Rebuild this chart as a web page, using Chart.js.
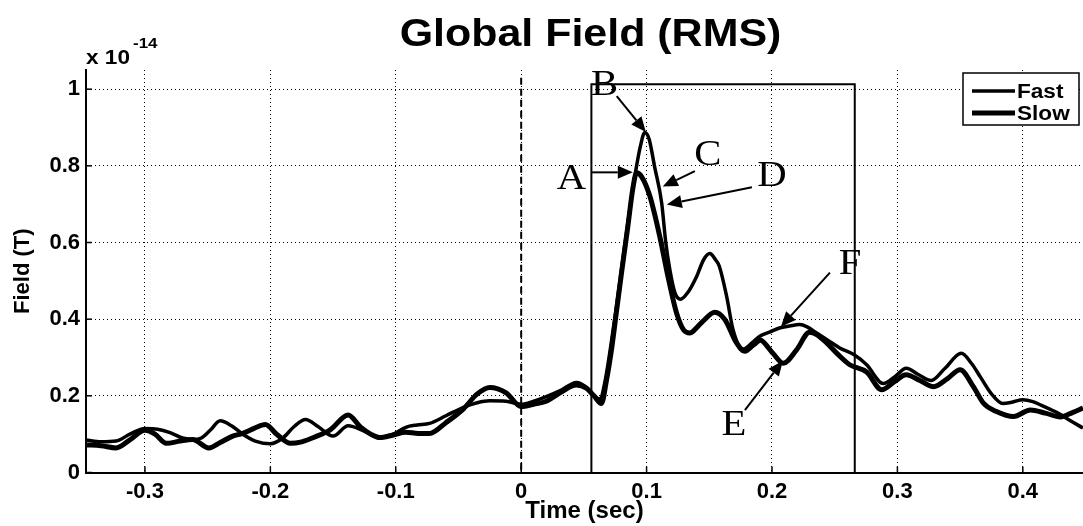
<!DOCTYPE html>
<html><head><meta charset="utf-8">
<script src="https://cdn.jsdelivr.net/npm/chart.js@4.4.0/dist/chart.umd.min.js"></script>
<style>html,body{margin:0;padding:0;background:#fff;}#wrap{width:1083px;height:526px;position:relative;}</style>
</head><body><div id="wrap"><canvas id="c" width="1083" height="526"></canvas></div>
<script>
// ---- data (time in s, field in units of 1e-14 T) ----
const fastTime = [-0.347,-0.335,-0.323,-0.312,-0.300,-0.290,-0.280,-0.270,-0.262,-0.255,-0.248,-0.240,-0.231,-0.222,-0.212,-0.200,-0.190,-0.181,-0.172,-0.162,-0.150,-0.138,-0.125,-0.113,-0.102,-0.092,-0.083,-0.073,-0.060,-0.046,-0.035,-0.025,-0.012,0.000,0.010,0.020,0.032,0.044,0.052,0.058,0.063,0.067,0.071,0.075,0.080,0.085,0.090,0.095,0.0986,0.102,0.1065,0.112,0.1153,0.1185,0.1225,0.127,0.133,0.140,0.1455,0.1504,0.155,0.158,0.1638,0.169,0.177,0.184,0.190,0.198,0.206,0.214,0.222,0.228,0.2356,0.245,0.254,0.2655,0.2755,0.2888,0.298,0.307,0.317,0.327,0.338,0.351,0.359,0.366,0.375,0.384,0.392,0.400,0.408,0.415,0.428,0.438,0.448];
const fastField = [0.085,0.080,0.082,0.100,0.115,0.113,0.104,0.090,0.086,0.090,0.110,0.135,0.122,0.100,0.082,0.075,0.090,0.120,0.138,0.120,0.095,0.122,0.108,0.092,0.100,0.118,0.124,0.128,0.148,0.170,0.182,0.187,0.186,0.178,0.186,0.198,0.215,0.235,0.222,0.200,0.192,0.240,0.320,0.410,0.530,0.650,0.760,0.850,0.887,0.870,0.796,0.704,0.600,0.530,0.470,0.452,0.470,0.512,0.555,0.571,0.555,0.538,0.460,0.372,0.322,0.338,0.355,0.366,0.377,0.382,0.386,0.380,0.364,0.344,0.325,0.307,0.281,0.232,0.250,0.272,0.255,0.240,0.272,0.311,0.285,0.250,0.205,0.180,0.184,0.190,0.185,0.175,0.155,0.135,0.116];
const slowTime = [-0.347,-0.335,-0.323,-0.312,-0.300,-0.292,-0.283,-0.272,-0.262,-0.249,-0.240,-0.230,-0.222,-0.213,-0.204,-0.195,-0.184,-0.175,-0.165,-0.152,-0.138,-0.128,-0.120,-0.113,-0.102,-0.092,-0.082,-0.073,-0.060,-0.046,-0.035,-0.025,-0.012,0.000,0.010,0.020,0.032,0.044,0.052,0.058,0.064,0.068,0.072,0.076,0.080,0.085,0.089,0.092,0.096,0.1026,0.1105,0.117,0.1239,0.1295,0.1345,0.140,0.145,0.1544,0.1624,0.1717,0.1784,0.185,0.191,0.196,0.201,0.209,0.2196,0.230,0.2356,0.2436,0.252,0.262,0.2755,0.2875,0.298,0.307,0.318,0.329,0.340,0.350,0.3606,0.3686,0.379,0.3926,0.406,0.418,0.430,0.440,0.448];
const slowField = [0.072,0.070,0.064,0.085,0.110,0.100,0.076,0.082,0.086,0.064,0.078,0.095,0.102,0.115,0.125,0.100,0.076,0.080,0.092,0.112,0.150,0.118,0.100,0.091,0.098,0.105,0.102,0.102,0.130,0.166,0.205,0.222,0.208,0.172,0.178,0.186,0.210,0.228,0.220,0.200,0.180,0.240,0.320,0.420,0.520,0.640,0.740,0.782,0.772,0.721,0.616,0.512,0.416,0.372,0.364,0.378,0.395,0.418,0.399,0.338,0.316,0.332,0.345,0.330,0.310,0.285,0.320,0.366,0.360,0.338,0.310,0.281,0.262,0.216,0.238,0.255,0.240,0.224,0.245,0.268,0.224,0.181,0.159,0.146,0.163,0.155,0.145,0.157,0.168];
const seriesNames = ['Fast', 'Slow'];
const xTickValues = [-0.3, -0.2, -0.1, 0, 0.1, 0.2, 0.3, 0.4];
const xTickLabels = ['-0.3', '-0.2', '-0.1', '0', '0.1', '0.2', '0.3', '0.4'];
const yTickValues = [0, 0.2, 0.4, 0.6, 0.8, 1];
const yTickLabels = ['0', '0.2', '0.4', '0.6', '0.8', '1'];
// annotation content (data units)
const analysisWindow = [0.056, 0.266];   // rectangle time span
const analysisTop = 1.013;
const onsetTime = 0;
const onsetTop = 1.03;
const markLetters = ['A', 'B', 'C', 'D', 'E', 'F'];
const letterTime  = [0.040, 0.0666, 0.1488, 0.1999, 0.1696, 0.2622];
const letterField = [0.765, 1.010, 0.827, 0.773, 0.1216, 0.5425];
const arrowFromTime  = [0.0563, 0.0762, 0.1385, 0.184, 0.1784, 0.2462];
const arrowFromField = [0.783, 0.982, 0.786, 0.744, 0.163, 0.5216];
const arrowToTime    = [0.089, 0.0994, 0.1129, 0.1161, 0.2087, 0.2071];
const arrowToField   = [0.783, 0.888, 0.746, 0.699, 0.2915, 0.380];

const SANS = '"Liberation Sans", Arial, Helvetica, sans-serif';
const SERIF = '"Liberation Serif", "Times New Roman", serif';
const STRETCH = 1.13;

function pts(t, v) { return t.map((tt, i) => ({x: tt, y: v[i]})); }
function lookup(vals, labels, v) {
  let best = 0; for (let i = 0; i < vals.length; i++) if (Math.abs(vals[i] - v) < Math.abs(vals[best] - v)) best = i;
  return Math.abs(vals[best] - v) < 1e-6 ? labels[best] : '';
}
function wideText(ctx, text, x, y, align) {
  ctx.save();
  ctx.translate(x, y); ctx.scale(STRETCH, 1);
  ctx.textAlign = align; ctx.fillText(text, 0, 0);
  ctx.restore();
}

const overlay = {
  id: 'overlay',
  beforeDatasetsDraw(chart) {
    const {ctx, scales: {x, y}} = chart;
    ctx.save();
    ctx.strokeStyle = '#000';
    ctx.lineWidth = 2;
    const rx1 = x.getPixelForValue(analysisWindow[0]), rx2 = x.getPixelForValue(analysisWindow[1]);
    const ryT = y.getPixelForValue(analysisTop), ry0 = y.getPixelForValue(0);
    ctx.beginPath();
    ctx.moveTo(rx1, ry0); ctx.lineTo(rx1, ryT); ctx.lineTo(rx2, ryT); ctx.lineTo(rx2, ry0);
    ctx.stroke();
    ctx.setLineDash([7, 4]);
    const ox = x.getPixelForValue(onsetTime);
    ctx.beginPath(); ctx.moveTo(ox, y.getPixelForValue(onsetTop)); ctx.lineTo(ox, ry0); ctx.stroke();
    ctx.setLineDash([]);
    ctx.lineWidth = 1.5;
    xTickValues.forEach(v => { const px = x.getPixelForValue(v); ctx.beginPath(); ctx.moveTo(px, ry0); ctx.lineTo(px, ry0 - 6); ctx.stroke(); });
    yTickValues.forEach(v => { const py = y.getPixelForValue(v); ctx.beginPath(); ctx.moveTo(x.left, py); ctx.lineTo(x.left + 6, py); ctx.stroke(); });
    ctx.restore();
  },
  afterDatasetsDraw(chart) {
    const {ctx, scales: {x, y}} = chart;
    ctx.save();
    ctx.fillStyle = '#000'; ctx.strokeStyle = '#000'; ctx.lineWidth = 2;
    markLetters.forEach((L, i) => {
      const x1 = x.getPixelForValue(arrowFromTime[i]), y1 = y.getPixelForValue(arrowFromField[i]);
      const x2 = x.getPixelForValue(arrowToTime[i]), y2 = y.getPixelForValue(arrowToField[i]);
      const a = Math.atan2(y2 - y1, x2 - x1), hl = 15, hw = 6.5;
      const bx = x2 - hl * Math.cos(a), by = y2 - hl * Math.sin(a);
      ctx.beginPath(); ctx.moveTo(x1, y1); ctx.lineTo(bx, by); ctx.stroke();
      ctx.beginPath(); ctx.moveTo(x2, y2);
      ctx.lineTo(bx + hw * Math.sin(a), by - hw * Math.cos(a));
      ctx.lineTo(bx - hw * Math.sin(a), by + hw * Math.cos(a));
      ctx.closePath(); ctx.fill();
      ctx.font = '36px ' + SERIF; ctx.textBaseline = 'middle';
      wideText(ctx, L, x.getPixelForValue(letterTime[i]), y.getPixelForValue(letterField[i]), 'center');
    });
    ctx.restore();
  },
  afterDraw(chart) {
    const {ctx, chartArea: ca} = chart;
    ctx.save();
    ctx.fillStyle = '#000';
    ctx.textBaseline = 'alphabetic';
    ctx.font = 'bold 38px ' + SANS;
    wideText(ctx, 'Global Field (RMS)', (ca.left + ca.right) / 2 + 6, 46, 'center');
    ctx.font = 'bold 20px ' + SANS; wideText(ctx, 'x 10', ca.left, 64, 'left');
    ctx.font = 'bold 15px ' + SANS; wideText(ctx, '-14', ca.left + 47, 48, 'left');
    // legend
    const lx = ca.right - 120, ly = 73, lw = 116, lh = 52;
    ctx.fillStyle = '#fff'; ctx.fillRect(lx, ly, lw, lh);
    ctx.strokeStyle = '#000'; ctx.lineWidth = 1.5; ctx.strokeRect(lx, ly, lw, lh);
    chart.data.datasets.forEach((ds, i) => {
      const yy = ly + 18 + i * 22;
      ctx.strokeStyle = ds.borderColor; ctx.lineWidth = ds.borderWidth;
      ctx.beginPath(); ctx.moveTo(lx + 9, yy); ctx.lineTo(lx + 52, yy); ctx.stroke();
      ctx.fillStyle = '#000'; ctx.font = 'bold 20px ' + SANS; ctx.textBaseline = 'middle';
      wideText(ctx, ds.label, lx + 54, yy + 1, 'left');
    });
    ctx.restore();
  }
};

new Chart(document.getElementById('c'), {
  type: 'line',
  data: {
    datasets: [
      {label: seriesNames[0], data: pts(fastTime, fastField), borderColor: '#000', borderWidth: 3.5, pointRadius: 0, cubicInterpolationMode: 'monotone', fill: false},
      {label: seriesNames[1], data: pts(slowTime, slowField), borderColor: '#000', borderWidth: 5, pointRadius: 0, cubicInterpolationMode: 'monotone', fill: false}
    ]
  },
  options: {
    responsive: false, animation: false, devicePixelRatio: 1,
    layout: {padding: {top: 70, left: 0, right: 0, bottom: 0}},
    plugins: {legend: {display: false}, title: {display: false}, tooltip: {enabled: false}},
    scales: {
      x: {
        type: 'linear', min: -0.347, max: 0.448,
        ticks: {stepSize: 0.1, includeBounds: false, autoSkip: false, maxRotation: 0, padding: 6, color: '#000',
                font: {family: SANS, size: 22, weight: 'bold'}, callback: v => lookup(xTickValues, xTickLabels, v)},
        grid: {color: '#000', lineWidth: 1, drawTicks: false},
        border: {display: true, color: '#000', width: 2, dash: [1, 3]},
        title: {display: true, text: 'Time (sec)', color: '#000', font: {family: SANS, size: 24, weight: 'bold'}, padding: {top: 0, bottom: 0}},
        afterFit: s => { s.height = 53.5; }
      },
      y: {
        min: 0, max: 1.05,
        ticks: {stepSize: 0.2, includeBounds: false, padding: 6, color: '#000',
                font: {family: SANS, size: 22, weight: 'bold'}, callback: v => lookup(yTickValues, yTickLabels, v)},
        grid: {color: '#000', lineWidth: 1, drawTicks: false},
        border: {display: true, color: '#000', width: 2, dash: [1, 3]},
        title: {display: true, text: 'Field (T)', color: '#000', font: {family: SANS, size: 22, weight: 'bold'}, padding: {top: 10, bottom: 0}},
        afterFit: s => { s.width = 86; }
      }
    }
  },
  plugins: [overlay]
});
</script></body></html>
